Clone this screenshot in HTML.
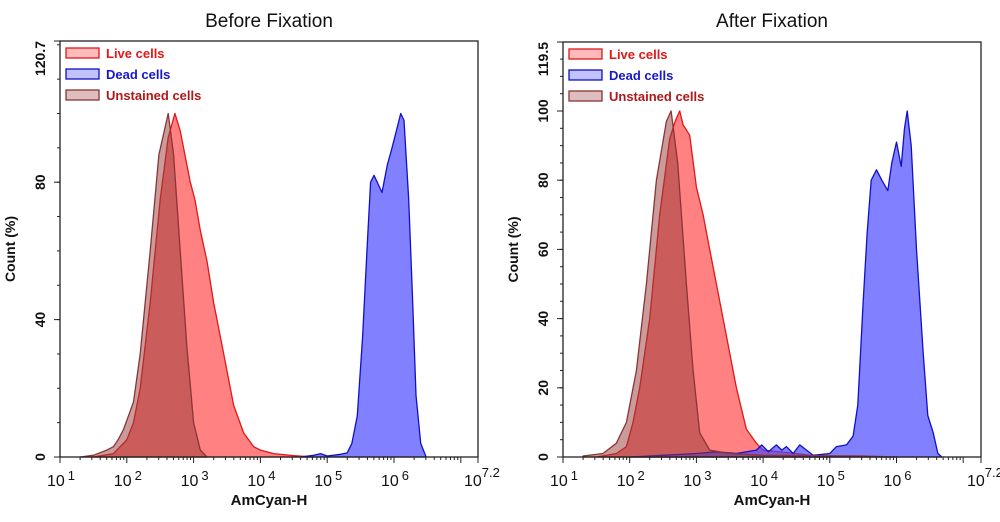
<!DOCTYPE html>
<html><head><meta charset="utf-8"><style>
body{margin:0;background:#fff;width:1000px;height:517px;overflow:hidden}
svg text{font-family:"Liberation Sans",sans-serif}
</style></head><body>
<svg id="s" width="1000" height="517" xmlns="http://www.w3.org/2000/svg"></svg>
<script>
const S=document.getElementById('s');let h='';
function plot(o){
 const X=v=>o.x0+(v-1)*o.dec, Y=p=>o.yb-p*o.py;
 h+=`<text x="${(o.x0+o.x1)/2}" y="27" font-size="19" text-anchor="middle" fill="#111">${o.title}</text>`;
 const path=(d,fill,st)=>{let s=`M${X(d[0][0])},${o.yb}`;d.forEach(p=>s+=`L${X(p[0]).toFixed(1)},${Y(p[1]).toFixed(1)}`);s+=`L${X(d[d.length-1][0])},${o.yb}Z`;h+=`<path d="${s}" fill="${fill}" stroke="${st}" stroke-width="1.3" stroke-linejoin="round"/>`;};
 path(o.live,'rgba(255,70,70,0.68)','#e01818');
 path(o.dead,'rgba(70,70,255,0.68)','#1010c8');
 path(o.un,'rgba(150,55,55,0.5)','#8a3535');
 h+=`<rect x="${o.x0}" y="${o.yt}" width="${o.x1-o.x0}" height="${o.yb-o.yt}" fill="none" stroke="#222" stroke-width="1.3"/>`;
 for(let v=0;v<=o.ymax;v+=o.minor){const y=Y(v);h+=`<line x1="${o.x0-3}" x2="${o.x0}" y1="${y}" y2="${y}" stroke="#222"/>`;}
 o.ylab.forEach(v=>{const y=Y(v);h+=`<line x1="${o.x0-6}" x2="${o.x0}" y1="${y}" y2="${y}" stroke="#222"/><text transform="translate(${o.x0-15},${y}) rotate(-90)" font-size="14" font-weight="bold" text-anchor="middle" fill="#111">${v}</text>`;});
 h+=`<line x1="${o.x0-6}" x2="${o.x0}" y1="${o.yt}" y2="${o.yt}" stroke="#222"/><text transform="translate(${o.x0-15},${o.yt}) rotate(-90)" font-size="14" font-weight="bold" text-anchor="end" fill="#111">${o.ymax}</text>`;
 h+=`<text transform="translate(${o.x0-45},${(o.yt+o.yb)/2}) rotate(-90)" font-size="14" font-weight="bold" text-anchor="middle" fill="#111">Count  (%)</text>`;
 for(let d=1;d<=7;d++){for(let m=1;m<10;m++){const v=d+Math.log10(m);if(v>7.2)break;const x=X(v);h+=`<line x1="${x}" x2="${x}" y1="${o.yb}" y2="${o.yb+(m==1?6:3)}" stroke="#222"/>`;}
  if(d<=6)h+=`<text x="${X(d)-13}" y="${o.yb+29}" font-size="16" fill="#111">10<tspan dx="3" dy="-6" font-size="13">${d}</tspan></text>`;}
 h+=`<line x1="${o.x1}" x2="${o.x1}" y1="${o.yb}" y2="${o.yb+6}" stroke="#222"/><text x="${o.x1-14}" y="${o.yb+29}" font-size="16" fill="#111">10<tspan dy="-9" font-size="13">7.2</tspan></text>`;
 h+=`<text x="${(o.x0+o.x1)/2}" y="505" font-size="15" font-weight="bold" text-anchor="middle" fill="#111">AmCyan-H</text>`;
 const L=[['Live cells','rgba(255,120,120,0.5)','#e01818','#e01818'],['Dead cells','rgba(120,120,255,0.45)','#1010c8','#1818c8'],['Unstained cells','rgba(170,90,90,0.4)','#8a3535','#b01818']];
 L.forEach((l,i)=>{const y=o.yt+7+i*21;h+=`<rect x="${o.x0+6}" y="${y}" width="33" height="10" fill="${l[1]}" stroke="${l[2]}" stroke-width="1.3"/><text x="${o.x0+46}" y="${y+10}" font-size="13" font-weight="bold" fill="${l[3]}">${l[0]}</text>`;});
}
plot({title:'Before Fixation',x0:60,x1:478,dec:66.8,yt:41,yb:457,py:3.435,ymax:120.7,minor:10,ylab:[0,40,80],
 un:[[1.3,0],[1.5,0.5],[1.7,2],[1.8,3],[1.87,5],[1.95,8],[2.1,16],[2.2,30],[2.35,60],[2.48,88],[2.62,100],[2.7,88],[2.8,60],[2.9,32],[3.0,10],[3.1,2],[3.2,0]],
 live:[[1.5,0],[1.8,1],[2.0,5],[2.1,10],[2.2,20],[2.35,45],[2.5,75],[2.62,93],[2.72,100],[2.8,95],[2.95,80],[3.02,75],[3.1,66],[3.2,57],[3.3,45],[3.45,30],[3.6,15],[3.75,7],[3.9,3],[4.0,2],[4.2,1],[4.5,0.4],[4.8,0]],
 dead:[[4.6,0],[4.8,0.5],[4.9,1],[5.0,0.3],[5.2,0.8],[5.3,1.2],[5.37,4],[5.45,12],[5.53,35],[5.6,62],[5.65,80],[5.7,82],[5.82,77],[5.9,85],[5.97,90],[6.05,96],[6.1,100],[6.15,98],[6.22,75],[6.28,45],[6.33,18],[6.4,4],[6.48,0]]});
plot({title:'After Fixation',x0:563,x1:981,dec:66.7,yt:42,yb:457,py:3.46,ymax:119.5,minor:5,ylab:[0,20,40,60,80,100],
 un:[[1.3,0.3],[1.6,1],[1.8,4],[1.95,10],[2.1,25],[2.25,50],[2.4,80],[2.55,97],[2.62,100],[2.72,85],[2.85,50],[2.95,25],[3.05,7],[3.2,2],[3.5,1],[4,0.5],[5.5,0.3],[6,0]],
 live:[[1.5,0],[1.8,1],[1.95,3],[2.05,10],[2.15,20],[2.3,40],[2.45,70],[2.6,92],[2.68,97],[2.75,100],[2.8,96],[2.9,93],[3.0,78],[3.1,70],[3.2,60],[3.3,50],[3.45,35],[3.6,20],[3.75,8],[3.9,4],[4.0,2],[4.5,1],[4.7,0.5],[5.0,0]],
 dead:[[2.0,0],[2.5,0.5],[3.0,1],[3.3,1.5],[3.6,1],[3.9,2],[3.98,3.5],[4.08,1.5],[4.2,3.5],[4.28,2],[4.35,3],[4.45,1],[4.55,3.5],[4.65,2],[4.75,0.5],[5.0,1],[5.1,3],[5.25,3.5],[5.35,6],[5.42,15],[5.5,45],[5.56,65],[5.62,80],[5.7,83],[5.78,80],[5.87,77],[5.93,85],[6.0,91],[6.07,84],[6.12,95],[6.16,100],[6.22,90],[6.3,60],[6.4,30],[6.47,12],[6.55,7],[6.62,1],[6.68,0]]});
S.innerHTML=h;
</script>
</body></html>
